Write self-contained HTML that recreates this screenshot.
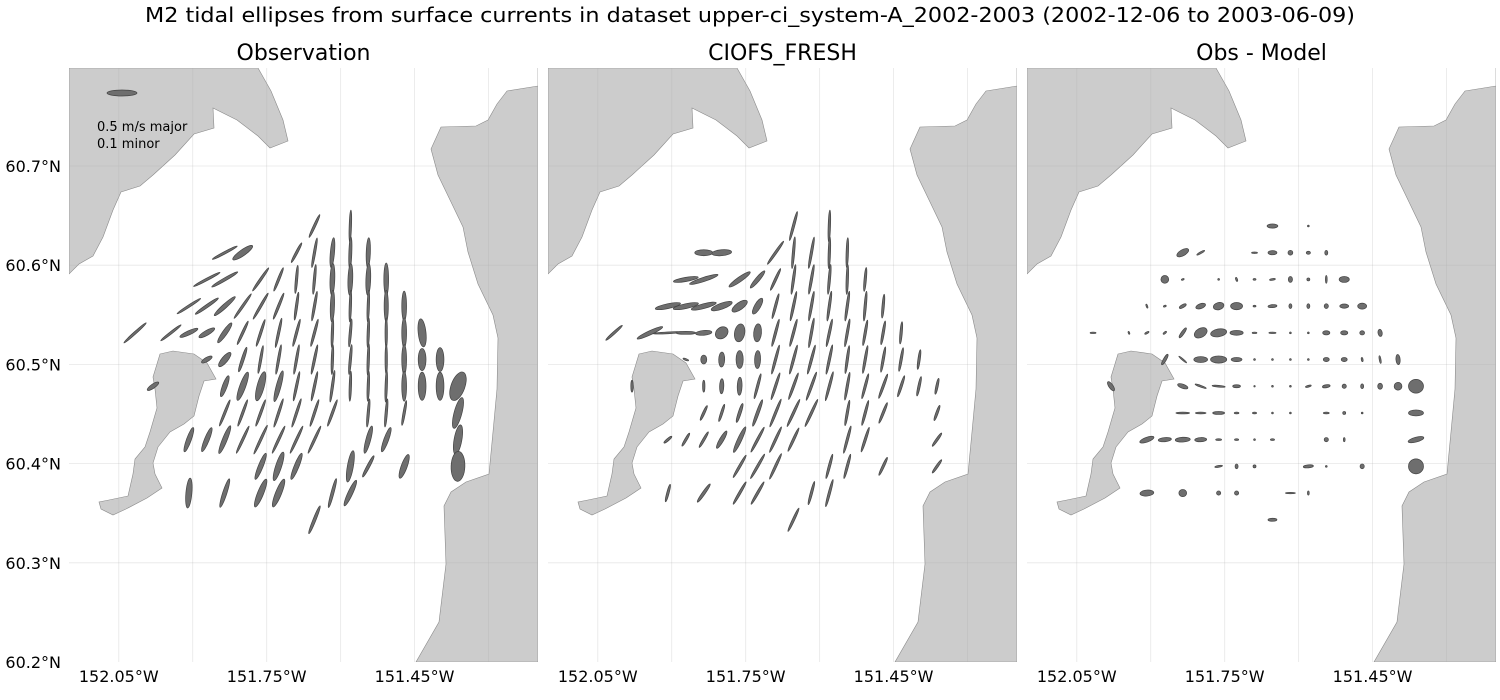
<!DOCTYPE html>
<html><head><meta charset="utf-8"><style>
html,body{margin:0;padding:0;background:#fff;}
svg{display:block;font-family:"DejaVu Sans","Liberation Sans",sans-serif;}
</style></head><body>
<svg id="chart" width="1500" height="700" viewBox="0 0 1500 700" xmlns="http://www.w3.org/2000/svg">
<text x="750" y="22" text-anchor="middle" font-size="20" textLength="1210" lengthAdjust="spacingAndGlyphs" fill="#000">M2 tidal ellipses from surface currents in dataset upper-ci_system-A_2002-2003 (2002-12-06 to 2003-06-09)</text>
</svg>
<script>
// station grid indices (row = south step, col = east step)
const pointRow=[0,0, 1,1,1,1,1,1,1, 2,2,2,2,2,2,2,2,2,2, 3,3,3,3,3,3,3,3,3,3,3,3,3, 4,4,4,4,4,4,4,4,4,4,4,4,4,4,4,4, 5,5,5,5,5,5,5,5,5,5,5,5,5,5, 6,6,6,6,6,6,6,6,6,6,6,6,6,6,6, 7,7,7,7,7,7,7,7,7,7,7, 8,8,8,8,8,8,8,8,8,8,8, 9,9,9,9,9,9,9, 10,10,10,10,10,10, 11];
const pointCol=[10,12, 5,6,9,10,11,12,13, 4,5,7,8,9,10,11,12,13,14, 3,4,5,6,7,8,9,10,11,12,13,14,15, 0,2,3,4,5,6,7,8,9,10,11,12,13,14,15,16, 4,5,6,7,8,9,10,11,12,13,14,15,16,17, 1,5,6,7,8,9,10,11,12,13,14,15,16,17,18, 5,6,7,8,9,10,11,13,14,15,18, 3,4,5,6,7,8,9,10,13,14,18, 7,8,9,12,13,15,18, 3,5,7,8,11,12, 10];
// Observation (cm/s, deg)
const obsMajor=[42,53, 47,40,37,50,50,53,50, 50,50,47,42,47,50,53,53,53,55, 47,47,47,50,50,47,47,50,53,53,53,53,50, 50,43,33,30,40,43,47,50,47,47,50,47,50,50,50,47, 20,30,43,47,50,50,50,50,50,53,50,50,37,40, 23,37,50,50,53,50,50,53,50,50,53,50,47,47,50, 47,47,47,50,50,47,47,47,47,42,53, 43,43,50,50,53,50,50,50,47,43,50, 47,50,47,53,40,42,50, 50,50,50,50,50,47, 50];
const obsMinor=[4,4, 4,10,4,4,7,5,7, 4,5,4,4,4,4,8,8,8,8, 4,5,7,4,4,4,4,4,7,4,4,7,8, 4,4,7,8,8,4,4,4,4,4,4,4,4,4,8,13, 7,10,5,4,4,4,4,4,4,4,4,8,13,13, 7,8,10,12,8,4,4,4,4,4,4,8,13,13,23, 4,4,4,4,4,4,4,4,4,4,13, 8,8,8,4,4,4,4,4,8,8,13, 8,10,8,10,5,10,23, 10,7,10,10,5,8, 5];
const obsAngle=[65,88, 28,35,62,80,85,88,88, 28,30,55,68,85,85,88,88,88,90, 33,35,42,55,60,68,82,80,88,88,88,90,90, 42,38,25,30,55,65,72,78,75,75,88,85,88,90,90,96, 30,50,72,80,80,80,78,88,85,88,90,90,90,90, 35,70,70,75,75,78,78,82,88,88,88,90,90,90,70, 68,70,70,72,72,72,70,85,85,80,75, 70,68,68,65,65,65,65,65,75,70,80, 68,72,68,80,62,70,88, 85,72,68,68,75,65, 68];
// Model CIOFS_FRESH
const modMajor=[50,53, 30,33,47,53,53,53,50, 42,50,43,37,40,50,50,50,50,40, 43,43,43,37,30,30,43,50,50,50,50,50,40, 37,47,50,33,27,23,30,30,47,47,50,47,47,43,40,37, 10,15,25,30,30,50,50,50,50,47,47,43,40,33, 20,20,25,30,43,47,47,50,50,47,43,43,37,33,27, 27,30,33,47,50,50,50,43,43,37,27, 17,25,30,33,47,47,47,43,47,43,27, 43,47,47,42,42,33,27, 30,37,43,43,40,47, 43];
const modMinor=[4,4, 10,10,4,4,4,4,4, 7,7,8,7,4,4,4,4,4,4, 8,8,8,10,12,10,4,4,4,4,4,4,4, 4,7,3,5,8,18,17,13,4,4,4,4,4,4,4,4, 3,10,10,12,10,4,4,4,4,4,4,4,4,4, 4,4,7,8,4,4,4,4,4,4,4,4,4,4,4, 4,4,5,5,4,4,4,4,4,4,4, 4,4,4,7,7,4,4,4,4,4,4, 4,4,4,4,4,4,4, 4,5,4,4,4,4, 4];
const modAngle=[75,88, 0,5,55,85,80,88,88, 10,18,35,50,65,82,80,85,88,85, 12,12,15,20,35,60,75,78,80,82,82,85,85, 42,25,3,0,5,40,80,85,75,75,80,78,80,80,80,85, -20,90,88,90,88,75,75,75,78,82,80,80,80,82, 90,90,88,88,75,72,70,70,75,80,75,70,72,78,78, 65,72,72,70,68,65,65,80,75,68,70, 40,60,60,60,65,62,65,65,75,72,55, 60,60,65,75,75,65,55, 75,55,60,60,75,75, 65];
// Obs - Model
const difMajor=[18,3, 22,15,10,15,8,7,8, 13,5,3,7,5,10,10,5,13,17, 7,5,13,17,18,20,5,15,8,8,8,15,15, 10,5,8,7,20,23,27,22,8,12,3,3,12,12,8,12, 20,17,23,27,18,3,3,3,3,10,10,7,13,17, 18,18,20,22,13,2.5,3,3,10,13,7,8,10,13,25, 23,18,20,8,7,3,3,10,5,3,25, 25,22,25,20,10,7,3,7,7,7,27, 13,8,5,17,3,8,25, 23,13,7,7,17,7, 15];
const difMinor=[7,3, 10,3,2.5,7,8,5,5, 13,2.5,3,3,3,3,7,5,3,10, 2.5,3,5,8,12,12,3,5,5,5,7,7,10, 2.5,2.5,3,3,5,15,13,8,2.5,2.5,3,3,7,7,7,7, 5,2.5,10,12,7,3,3,3,3,7,7,3,3,7, 7,7,3,3,5,2.5,3,3,3,5,7,5,8,13,23, 3,3,5,3,3,3,3,3,5,3,10, 8,7,8,7,3,3,3,3,7,3,8, 3,5,5,5,3,7,25, 10,12,7,7,2.5,3, 5];
const difAngle=[0,0, 30,30,0,0,0,0,90, 0,20,0,110,0,10,90,0,90,0, 110,20,30,20,15,0,0,5,90,90,90,0,0, 0,110,30,40,55,30,10,0,0,0,0,0,0,0,0,100, 60,-40,0,0,0,0,0,0,0,0,0,100,100,95, 125,-20,-20,-5,0,0,0,0,15,10,0,90,90,0,0, 0,0,0,0,0,0,0,0,0,0,0, 20,5,3,3,0,0,0,0,0,90,15, 10,90,0,5,0,90,0, 5,0,0,0,0,90, 0];
const panelTitles=["Observation","CIOFS_FRESH","Obs - Model"];
const xTickLabels=["152.05°W","151.75°W","151.45°W"];
const xTickLons=[-152.05,-151.75,-151.45];
const xGridLons=[-152.05,-151.9,-151.75,-151.6,-151.45,-151.3];
const yTickLabels=["60.2°N","60.3°N","60.4°N","60.5°N","60.6°N","60.7°N"];
const yTickLats=[60.2,60.3,60.4,60.5,60.6,60.7];

const NS="http://www.w3.org/2000/svg";
const svg=document.getElementById('chart');
const PW=469,PT=68,PB=662,LON0=-152.151,PXDEG=493,PYDEG=992;
const lefts=[69,548,1027];
const SCALE=0.6; // px per cm/s (full axis)
function xS(lon,L){return L+(lon-LON0)*PXDEG;}
function yS(lat){return PB-(lat-60.2)*PYDEG;}
function stLon(c){return -152.017+c*0.03639;}
function stLat(r){return 60.6395-r*0.02692;}
function mk(tag,attrs,parent){const e=document.createElementNS(NS,tag);for(const k in attrs)e.setAttribute(k,attrs[k]);(parent||svg).appendChild(e);return e;}

const landTL=[[0,0],[189,0],[202,23],[214,52],[219,73],[201,80],[189,68],[168,52],[144,40],[145,60],[125,66],[106,87],[84,107],[71,118],[52,124],[44,142],[34,169],[24,188],[10,196],[0,206]];
const landR=[[469,0],[469,18],[438,23],[428,36],[419,52],[407,58],[372,59],[362,81],[369,107],[382,134],[394,159],[399,184],[409,216],[424,247],[429,270],[428,321],[424,364],[420,406],[397,414],[382,424],[375,438],[377,496],[370,554],[347,594],[469,594]];
const landI=[[91,286],[104,283],[125,286],[138,295],[147,311],[135,313],[130,328],[125,348],[115,356],[101,364],[89,379],[84,395],[86,406],[93,420],[78,430],[57,441],[44,447],[32,441],[30,434],[40,432],[59,428],[64,406],[66,391],[76,379],[81,364],[88,340],[86,321],[84,309]];

const datasets=[[obsMajor,obsMinor,obsAngle],[modMajor,modMinor,modAngle],[difMajor,difMinor,difAngle]];
const defs=mk('defs',{});
lefts.forEach((L,pi)=>{
  const cp=mk('clipPath',{id:'clip'+pi},defs);
  mk('rect',{x:L,y:PT,width:PW,height:PB-PT},cp);
  const g=mk('g',{'clip-path':'url(#clip'+pi+')'});
  
  
  [[landTL,'land-northwest'],[landR,'land-east'],[landI,'land-island']].forEach(([poly,nm])=>{
    const p=mk('polygon',{points:poly.map(q=>(q[0]+L)+','+(q[1]+PT)).join(' '),fill:'#cccccc',stroke:'#8a8a8a','stroke-width':0.6},g);
    
    
  });
  xGridLons.forEach(lon=>{const l=mk('line',{x1:xS(lon,L),x2:xS(lon,L),y1:PT,y2:PB,stroke:'#b0b0b0','stroke-opacity':0.3,'stroke-width':0.8},g);
    
    });
  yTickLats.slice(1).forEach(lat=>{const l=mk('line',{x1:L,x2:L+PW,y1:yS(lat),y2:yS(lat),stroke:'#b0b0b0','stroke-opacity':0.3,'stroke-width':0.8},g);
    
    });
  const [maj,mn,ang]=datasets[pi];
  pointRow.forEach((r,i)=>{
    const cx=xS(stLon(pointCol[i]),L),cy=yS(stLat(r));
    const e=mk('ellipse',{cx:cx,cy:cy,rx:Math.max(maj[i]*SCALE/2,0.6),ry:Math.max(mn[i]*SCALE/2,0.6),transform:'rotate('+(-ang[i])+' '+cx+' '+cy+')',fill:'#6e6e6e',stroke:'#444','stroke-width':0.7},g);
    
    
  });
  const t=mk('text',{x:L+PW/2,y:60,'text-anchor':'middle','font-size':22,fill:'#000'});
  t.textContent=panelTitles[pi];
  
  
  xTickLons.forEach((lon,k)=>{const tx=mk('text',{x:xS(lon,L),y:682,'text-anchor':'middle','font-size':16,fill:'#000'});
    tx.textContent=xTickLabels[k];
    
    });
});
yTickLats.forEach((lat,k)=>{const t=mk('text',{x:61,y:yS(lat)+6,'text-anchor':'end','font-size':16,fill:'#000'});
  t.textContent=yTickLabels[k];
  
  });
const lg=mk('g',{});


mk('ellipse',{cx:122,cy:93,rx:50*SCALE/2,ry:10*SCALE/2,fill:'#6e6e6e',stroke:'#444','stroke-width':0.7},lg);
const l1=mk('text',{x:97,y:131,'font-size':13,fill:'#000'},lg);l1.textContent='0.5 m/s major';
const l2=mk('text',{x:97,y:148,'font-size':13,fill:'#000'},lg);l2.textContent='0.1 minor';
</script>
</body></html>
